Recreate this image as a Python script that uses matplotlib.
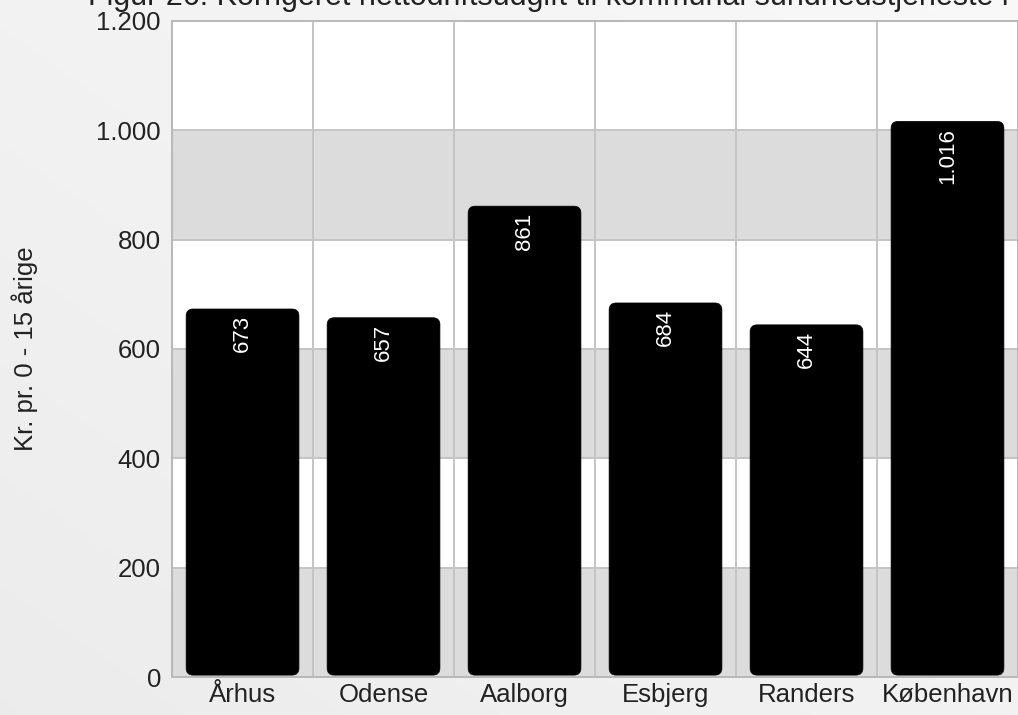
import numpy as np
import matplotlib
matplotlib.use("Agg")
import matplotlib.pyplot as plt
from matplotlib.patches import FancyBboxPatch

plt.rcParams["font.family"] = ["Liberation Sans", "DejaVu Sans"]

# ---------- data ----------
kommuner = ["Århus", "Odense", "Aalborg", "Esbjerg", "Randers", "København"]
udgift = [673, 657, 861, 684, 644, 1016]
y_ticks = [0, 200, 400, 600, 800, 1000, 1200]

title = "Figur 26: Korrigeret nettodriftsudgift til kommunal sundhedstjeneste i 2010"
y_label = "Kr. pr. 0 - 15 årige"


def dk(n):
    """Danish thousands separator."""
    return f"{n:,}".replace(",", ".")


fig = plt.figure(figsize=(10.18, 7.15), dpi=100)

# soft grey background gradient (lighter towards top right)
bg = fig.add_axes([0, 0, 1, 1], zorder=-10)
gx, gy = np.meshgrid(np.linspace(0, 1, 200), np.linspace(0, 1, 200))
grad = 0.5 * gx + 0.5 * (1 - gy)
val = 0.925 + 0.05 * grad
bg.imshow(np.dstack([val, val, val]), aspect="auto",
          extent=[0, 1, 0, 1], origin="upper")
bg.axis("off")

ax = fig.add_axes([0.169, 0.053, 0.831, 0.918])
ax.set_facecolor("white")
x = np.arange(len(kommuner))
ax.set_xlim(-0.5, len(kommuner) - 0.5)
ax.set_ylim(y_ticks[0], y_ticks[-1])

# alternating bands
for i in range(len(y_ticks) - 1):
    if i % 2 == 0:
        ax.axhspan(y_ticks[i], y_ticks[i + 1], color="#dcdcdc", zorder=0, lw=0)

# grid
grid_c = "#c4c4c4"
for yt in y_ticks:
    ax.axhline(yt, color=grid_c, lw=1.4, zorder=1)
for xb in np.arange(-0.5, len(kommuner), 1.0):
    ax.axvline(xb, color=grid_c, lw=1.4, zorder=1)

# bars with rounded corners
bars = ax.bar(x, udgift, width=0.8, color="black", zorder=2)
fig.canvas.draw()
bb = ax.get_window_extent()
px_x = (ax.get_xlim()[1] - ax.get_xlim()[0]) / bb.width
px_y = (ax.get_ylim()[1] - ax.get_ylim()[0]) / bb.height
aspect = px_y / px_x
for b in bars:
    b.set_visible(False)
    patch = FancyBboxPatch((b.get_x(), b.get_y() + 2 * px_y),
                           b.get_width(), b.get_height() - 2 * px_y,
                           boxstyle=f"round,pad=0,rounding_size={7 * px_x}",
                           mutation_aspect=aspect,
                           fc="black", ec="black", lw=0.5, zorder=3)
    ax.add_patch(patch)

for xi, v in zip(x, udgift):
    ax.annotate(dk(v), (xi, v), xytext=(0, -4.5), textcoords="offset points",
                rotation=90, ha="center", va="top", color="white",
                fontsize=16, zorder=4)

for s in ax.spines.values():
    s.set_color("#b8b8b8")
    s.set_linewidth(1.4)

ax.set_yticks(y_ticks)
ax.set_yticklabels([dk(t) for t in y_ticks])
ax.set_xticks(x)
ax.set_xticklabels(kommuner)
ax.tick_params(length=0, labelsize=18.5, colors="#222222")
ax.tick_params(axis="y", pad=8)
ax.tick_params(axis="x", pad=4)

fig.text(0.024, 0.513, y_label, rotation=90, ha="center", va="center",
         fontsize=18.5, color="#222222")
# title sits mostly above the top edge, as in the source
fig.text(0.086, 0.9937, title, ha="left", va="baseline", fontsize=22,
         color="#222222")

fig.savefig("out.png", dpi=100)
